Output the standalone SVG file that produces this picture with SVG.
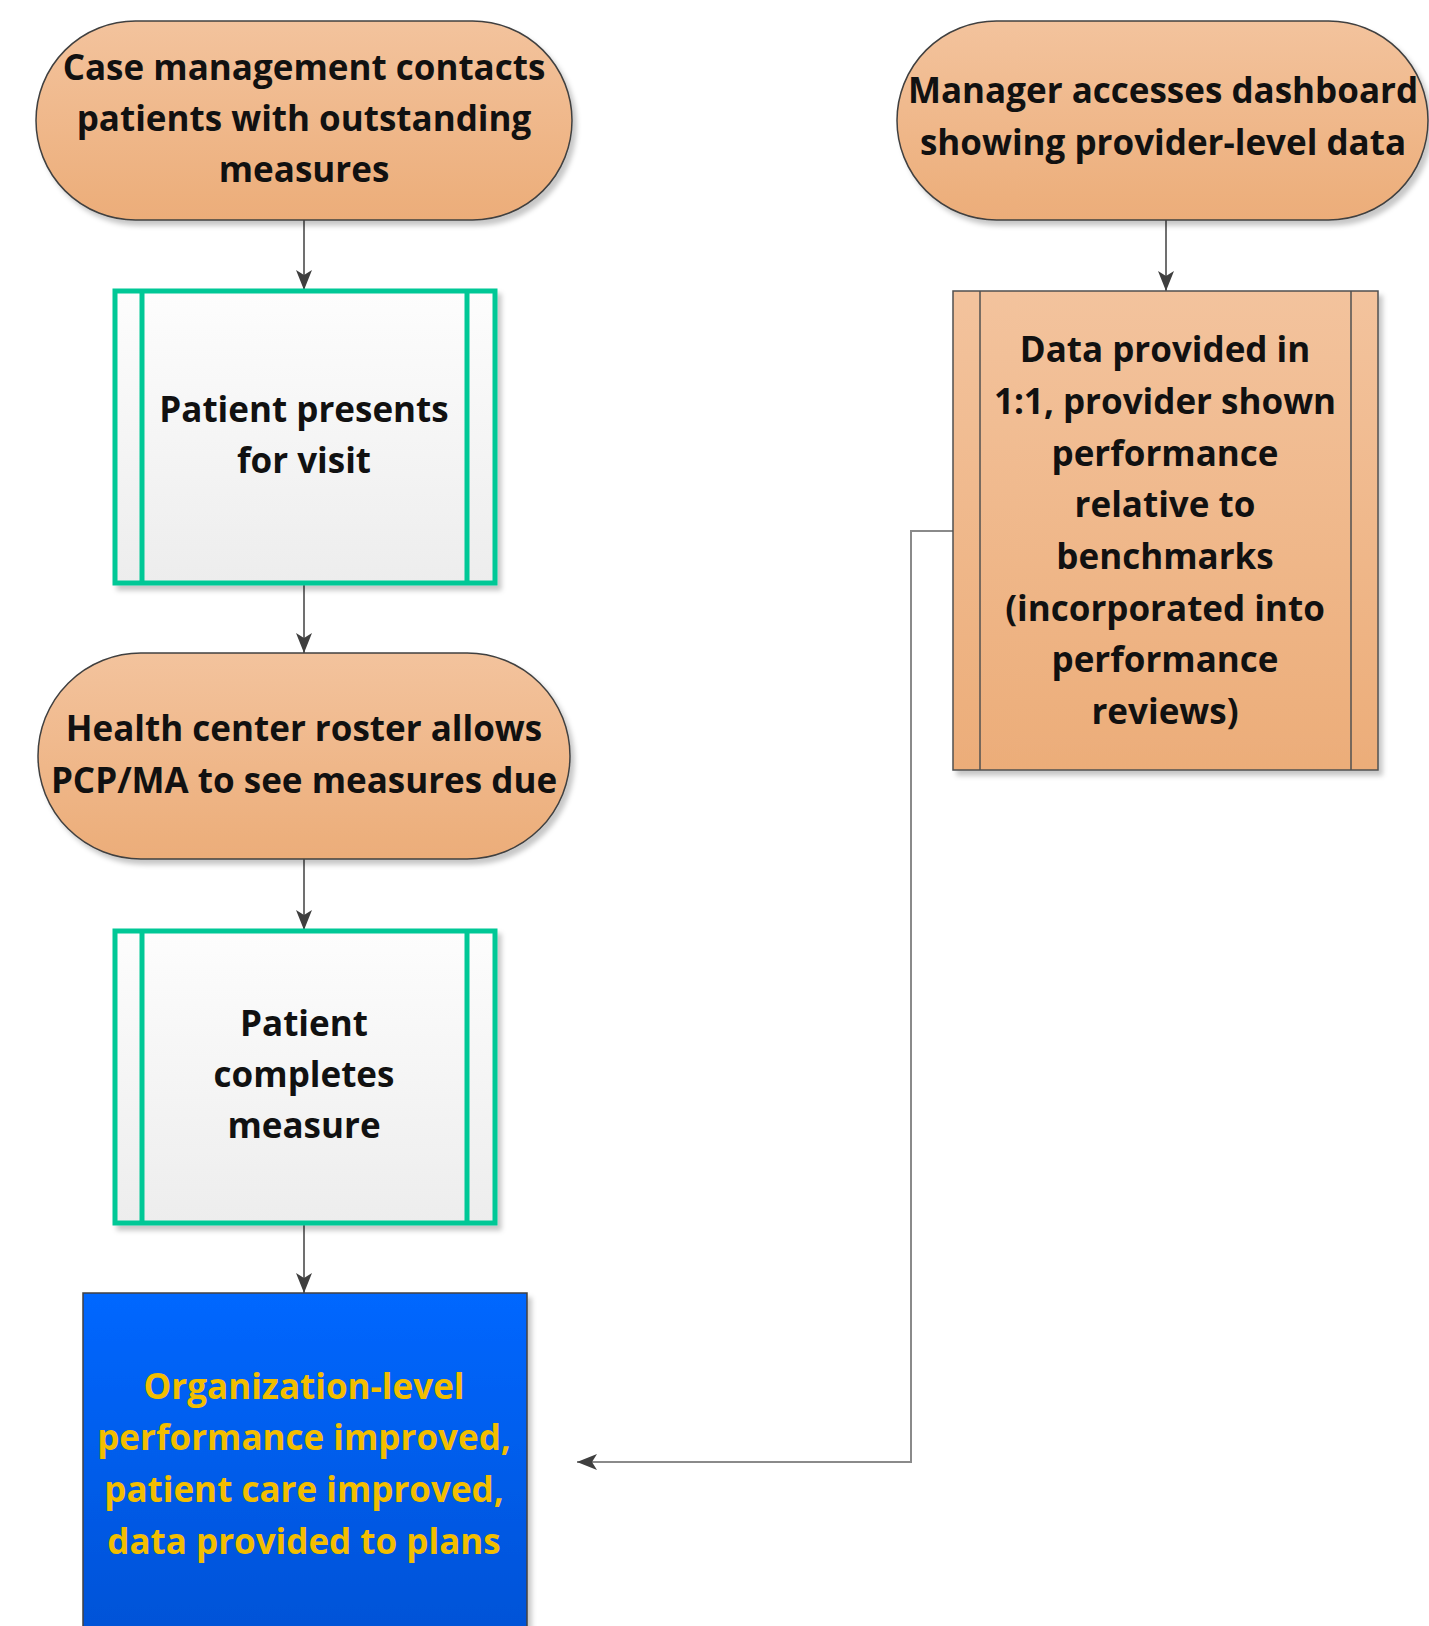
<svg xmlns="http://www.w3.org/2000/svg" width="1429" height="1626" viewBox="0 0 1429 1626">
<defs>
<linearGradient id="gOrange" x1="0" y1="0" x2="0" y2="1">
<stop offset="0" stop-color="#F3C39D"/>
<stop offset="1" stop-color="#ECAD79"/>
</linearGradient>
<linearGradient id="gGray" x1="0" y1="0" x2="0" y2="1">
<stop offset="0" stop-color="#FDFDFD"/>
<stop offset="1" stop-color="#EDEDED"/>
</linearGradient>
<linearGradient id="gBlue" x1="0" y1="0" x2="0" y2="1">
<stop offset="0" stop-color="#0067FF"/>
<stop offset="1" stop-color="#0052D6"/>
</linearGradient>
<filter id="sh" x="-10%" y="-10%" width="130%" height="130%">
<feDropShadow dx="4" dy="5" stdDeviation="2.5" flood-color="#000" flood-opacity="0.22"/>
</filter>
<marker id="arrL" viewBox="0 0 20 20" refX="20" refY="10" markerWidth="20" markerHeight="20" markerUnits="userSpaceOnUse" orient="auto">
<path d="M0,2 L20,10 L0,18 L5,10 z" fill="#3F3F3F"/>
</marker>
</defs>
<style>
.t{font-family:"Open Sans",Lato,"Liberation Sans",sans-serif;font-weight:bold;font-size:35px;fill:#111;text-anchor:middle}
.ty{font-family:"Open Sans",Lato,"Liberation Sans",sans-serif;font-weight:bold;font-size:35px;fill:#F2BE00;text-anchor:middle}
.stad{fill:url(#gOrange);stroke:#404040;stroke-width:1.5;filter:url(#sh)}
.grn{fill:url(#gGray);stroke:#00C896;stroke-width:5;filter:url(#sh)}
.gl{stroke:#00C896;stroke-width:5}
.orect{fill:url(#gOrange);stroke:#505050;stroke-width:1.5;filter:url(#sh)}
.ol{stroke:#505050;stroke-width:1.5}
.c{fill:none;stroke:#404040;stroke-width:1.5}
.c2{fill:none;stroke:#8A8A8A;stroke-width:2}
</style>

<g id="connectors">
<path class="c" d="M304,220 V290" marker-end="url(#arrL)"/>
<path class="c" d="M304,584 V653" marker-end="url(#arrL)"/>
<path class="c" d="M304,859 V930" marker-end="url(#arrL)"/>
<path class="c" d="M304,1224 V1293" marker-end="url(#arrL)"/>
<path class="c" d="M1166,220 V291" marker-end="url(#arrL)"/>
<path class="c2" d="M953,531 H911 V1462 H577" marker-end="url(#arrL)"/>
</g>

<g id="node-case-management">
<rect class="stad" x="36" y="21" width="536" height="199" rx="99.5" ry="99.5"/>
<text class="t" x="304" y="80">Case management contacts</text>
<text class="t" x="304" y="131">patients with outstanding</text>
<text class="t" x="304" y="182">measures</text>
</g>

<g id="node-patient-presents">
<rect class="grn" x="115" y="291" width="380" height="292"/>
<line class="gl" x1="142" y1="291" x2="142" y2="583"/>
<line class="gl" x1="467" y1="291" x2="467" y2="583"/>
<text class="t" x="304" y="422">Patient presents</text>
<text class="t" x="304" y="473">for visit</text>
</g>

<g id="node-roster">
<rect class="stad" x="38" y="653" width="532" height="206" rx="103" ry="103"/>
<text class="t" x="304" y="741">Health center roster allows</text>
<text class="t" x="304" y="793">PCP/MA to see measures due</text>
</g>

<g id="node-patient-completes">
<rect class="grn" x="115" y="931" width="380" height="292"/>
<line class="gl" x1="142" y1="931" x2="142" y2="1223"/>
<line class="gl" x1="467" y1="931" x2="467" y2="1223"/>
<text class="t" x="304" y="1036">Patient</text>
<text class="t" x="304" y="1087">completes</text>
<text class="t" x="304" y="1138">measure</text>
</g>

<g id="node-outcome">
<rect x="83" y="1293" width="444" height="345" fill="url(#gBlue)" stroke="#404040" stroke-width="1.5" filter="url(#sh)"/>
<text class="ty" x="304" y="1399">Organization-level</text>
<text class="ty" x="304" y="1450">performance improved,</text>
<text class="ty" x="304" y="1502">patient care improved,</text>
<text class="ty" x="304" y="1554">data provided to plans</text>
</g>

<g id="node-manager">
<rect class="stad" x="897" y="21" width="531" height="199" rx="99.5" ry="99.5"/>
<text class="t" x="1163" y="103">Manager accesses dashboard</text>
<text class="t" x="1163" y="155">showing provider-level data</text>
</g>

<g id="node-data-provided">
<rect class="orect" x="953" y="291" width="425" height="479"/>
<line class="ol" x1="980" y1="291" x2="980" y2="770"/>
<line class="ol" x1="1351" y1="291" x2="1351" y2="770"/>
<text class="t" x="1165" y="362">Data provided in</text>
<text class="t" x="1165" y="414">1:1, provider shown</text>
<text class="t" x="1165" y="466">performance</text>
<text class="t" x="1165" y="517">relative to</text>
<text class="t" x="1165" y="569">benchmarks</text>
<text class="t" x="1165" y="621">(incorporated into</text>
<text class="t" x="1165" y="672">performance</text>
<text class="t" x="1165" y="724">reviews)</text>
</g>
</svg>
